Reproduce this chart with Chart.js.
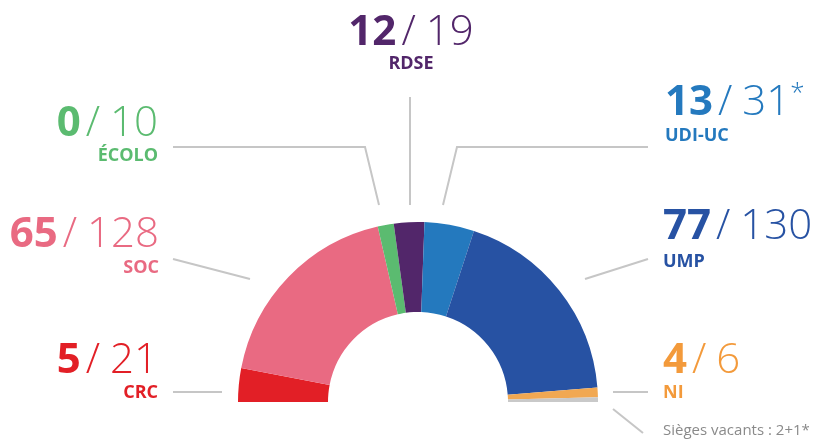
<!DOCTYPE html>
<html>
<head>
<meta charset="utf-8">
<script src="https://cdn.jsdelivr.net/npm/chart.js@4.4.1/dist/chart.umd.min.js"></script>
<style>
  html, body { margin: 0; padding: 0; background: #fff; }
  #wrap { width: 832px; height: 439px; position: relative; }
</style>
</head>
<body>
<div id="wrap"><canvas id="senat"></canvas></div>
<script>
// composition du Sénat, de gauche à droite
const groupes = ['CRC', 'SOC', 'ÉCOLO', 'RDSE', 'UDI-UC', 'UMP', 'NI', 'Sièges vacants'];
const elus = [5, 65, 0, 12, 13, 77, 4];
const sieges = [21, 128, 10, 19, 31, 130, 6, 3];
const renvois = ['', '', '', '', '*', '', ''];
const vacants = 'Sièges vacants : 2+1*';

const couleurs = ['#e21f26', '#e96a82', '#5bbb70', '#52266a', '#2479be', '#2752a3', '#f1a852', '#c9c9c9'];
const couleursTexte = ['#e21f26', '#e96a82', '#5bbb70', '#52266a', '#2479be', '#2752a3', '#f39a3b'];

// emplacement des étiquettes (ligne de base du nombre / du sigle)
const places = [
  { x: 158, y: 373, y2: 398, align: 'right' },
  { x: 159, y: 247, y2: 273, align: 'right' },
  { x: 158, y: 136, y2: 161, align: 'right' },
  { x: 411, y: 45, y2: 69, align: 'center' },
  { x: 665, y: 115, y2: 141, align: 'left' },
  { x: 663, y: 239, y2: 267, align: 'left' },
  { x: 663, y: 373, y2: 398, align: 'left' }
];

const traits = [
  [[173, 392], [222, 392]],
  [[173, 259], [250, 279]],
  [[173, 147], [365, 147], [379, 205]],
  [[410, 97], [410, 205]],
  [[648, 147], [457, 147], [443, 205]],
  [[648, 259], [585, 279]],
  [[613, 392], [648, 392]],
  [[613, 409], [643, 433]]
];

const POLICE = '"Open Sans", "Noto Sans", sans-serif';

const etiquettes = {
  id: 'etiquettes',
  afterDraw(chart) {
    const ctx = chart.ctx;
    ctx.save();

    ctx.strokeStyle = '#c6c6c6';
    ctx.lineWidth = 2;
    traits.forEach(t => {
      ctx.beginPath();
      t.forEach((p, k) => k ? ctx.lineTo(p[0], p[1]) : ctx.moveTo(p[0], p[1]));
      ctx.stroke();
    });

    ctx.textBaseline = 'alphabetic';
    places.forEach((pl, i) => {
      const gras = '700 42px ' + POLICE;
      const fin = '300 42px ' + POLICE;
      const petit = '300 26px ' + POLICE;
      ctx.font = gras;
      const wB = ctx.measureText(String(elus[i])).width;
      ctx.font = fin;
      const wS = ctx.measureText('/').width;
      const wN = ctx.measureText(String(sieges[i])).width;
      const g1 = 5, g2 = 10;
      const total = wB + g1 + wS + g2 + wN;
      let x0 = pl.x;
      if (pl.align === 'right') x0 = pl.x - total;
      if (pl.align === 'center') x0 = pl.x - total / 2;

      ctx.fillStyle = couleursTexte[i];
      ctx.textAlign = 'left';
      ctx.font = gras;
      ctx.fillText(String(elus[i]), x0, pl.y);
      ctx.font = fin;
      ctx.fillText('/', x0 + wB + g1, pl.y);
      ctx.fillText(String(sieges[i]), x0 + wB + g1 + wS + g2, pl.y);
      if (renvois[i]) {
        ctx.font = petit;
        ctx.fillText(renvois[i], x0 + total, pl.y - 14);
      }

      ctx.font = '700 18px ' + POLICE;
      ctx.textAlign = pl.align;
      ctx.fillText(groupes[i], pl.x, pl.y2);
    });

    ctx.font = '400 15px ' + POLICE;
    ctx.fillStyle = '#8a8a8a';
    ctx.textAlign = 'left';
    ctx.fillText(vacants, 663, 435);
    ctx.restore();
  }
};

new Chart(document.getElementById('senat'), {
  type: 'doughnut',
  data: {
    labels: groupes,
    datasets: [{
      data: sieges,
      backgroundColor: couleurs,
      borderWidth: 0
    }]
  },
  options: {
    responsive: true,
    maintainAspectRatio: false,
    animation: false,
    rotation: -90,
    circumference: 180,
    cutout: '50%',
    layout: { padding: { left: 238, right: 234, top: 222, bottom: 37 } },
    plugins: {
      legend: { display: false },
      tooltip: { enabled: false }
    }
  },
  plugins: [etiquettes]
});
</script>
</body>
</html>
